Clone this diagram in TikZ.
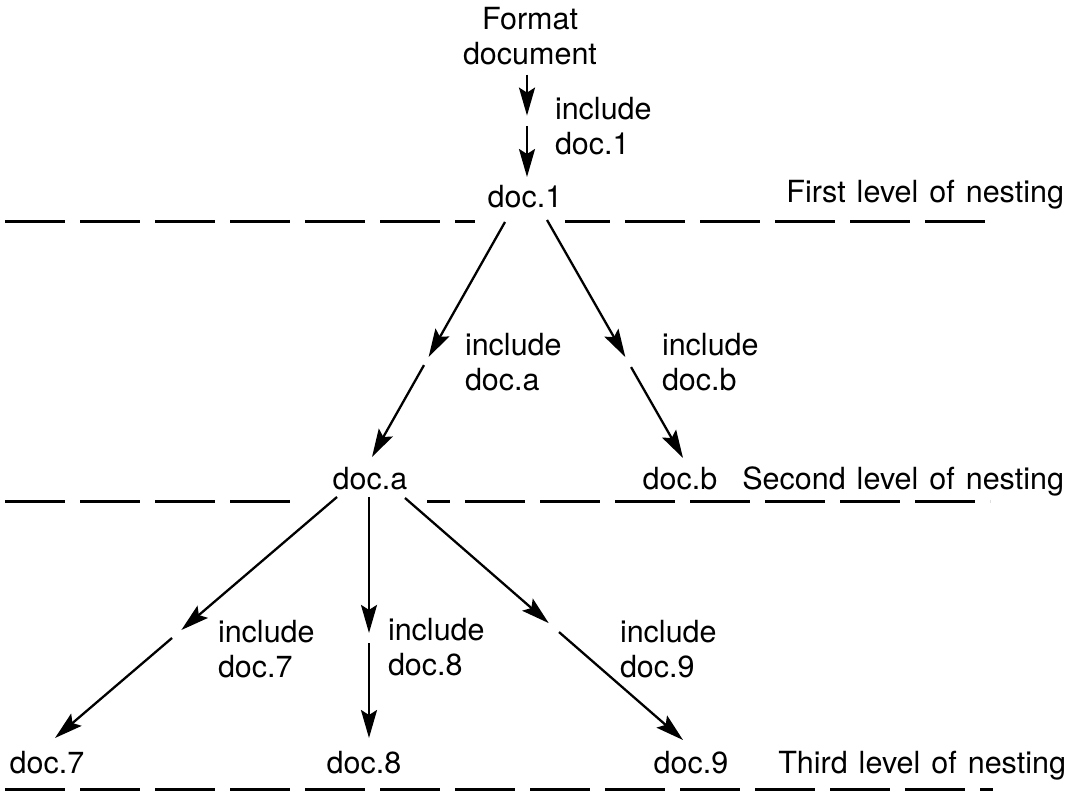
\documentclass[tikz,border=0pt]{standalone}
\usepackage{fontspec}
\setmainfont{TeX Gyre Heros}
\usetikzlibrary{arrows.meta,calc}
\tikzset{
  txt/.style={inner sep=0pt, outer sep=0pt, font=\fontsize{30.5pt}{35pt}\selectfont},
  lbl/.style={txt, align=left, anchor=north west},
  doclbl/.style={txt, anchor=base},
  lvl/.style={txt, anchor=base east},
  arr/.style={line width=2.3pt, -{Stealth[length=28pt,width=16pt,inset=5pt]}},
  nest/.style={line width=3pt, dash pattern=on 60pt off 15pt},
}
\newcommand\widewords[1]{\spaceskip=11pt\relax #1}
\newcommand\twoarrow[4]{%
  \draw[arr] (#1) -- ($(#1)!#3!(#2)$);
  \draw[arr] ($(#1)!#4!(#2)$) -- (#2);}
\begin{document}
\begin{tikzpicture}[x=1pt,y=-1pt]
\useasboundingbox (0,0) rectangle (1077,791);
% texts
\node[txt, align=center, anchor=north] (fmt) at (530,7) {Format\\document};
\node[lbl] (l1) at (555,97) {include\\doc.1};
\node[doclbl] (doc1) at (525,208) {doc.1};
\node[lvl] (lev1) at (1064,203) {\widewords{First level of nesting}};
\node[lbl] (la) at (465,333) {include\\doc.a};
\node[lbl] (lb) at (662,333) {include\\doc.b};
\node[doclbl] (doca) at (370,490) {doc.a};
\node[doclbl] (docb) at (680,490) {doc.b};
\node[lvl] (lev2) at (1064,490) {\widewords{Second level of nesting}};
\node[lbl] (l7) at (218,620) {include\\doc.7};
\node[lbl] (l8) at (388,618) {include\\doc.8};
\node[lbl] (l9) at (620,620) {include\\doc.9};
\node[doclbl] (doc7) at (47,773) {doc.7};
\node[doclbl] (doc8) at (364,773) {doc.8};
\node[doclbl] (doc9) at (691,773) {doc.9};
\node[lvl] (lev3) at (1066,773) {\widewords{Third level of nesting}};
% nesting lines
\draw[nest] (5,222) -- (475,222);
\draw[nest, dash phase=15pt] (565,222) -- (990,222);
\draw[nest] (5,502) -- (303,502);
\draw[nest, dash phase=37pt] (427,502) -- (990,502);
\draw[nest] (5,789) -- (993,789);
% connectors
\twoarrow{[xshift=-3pt,yshift=-10pt]fmt.south}{[xshift=2pt,yshift=31pt]doc1.base}{0.40}{0.50}
\twoarrow{[xshift=-20pt,yshift=-14pt]doc1.base}{[xshift=2pt,yshift=33pt]doca.base}{0.574}{0.609}
\twoarrow{[xshift=22pt,yshift=-12pt]doc1.base}{[xshift=3pt,yshift=32pt]docb.base}{0.576}{0.618}
\twoarrow{[xshift=-33pt,yshift=-7pt]doca.base}{[xshift=8pt,yshift=35pt]doc7.base}{0.552}{0.585}
\twoarrow{[xshift=-1pt,yshift=-7pt]doca.base}{[xshift=5pt,yshift=35pt]doc8.base}{0.564}{0.606}
\twoarrow{[xshift=35pt,yshift=-8pt]doca.base}{[xshift=-8pt,yshift=33pt]doc9.base}{0.517}{0.554}
\end{tikzpicture}
\end{document}
